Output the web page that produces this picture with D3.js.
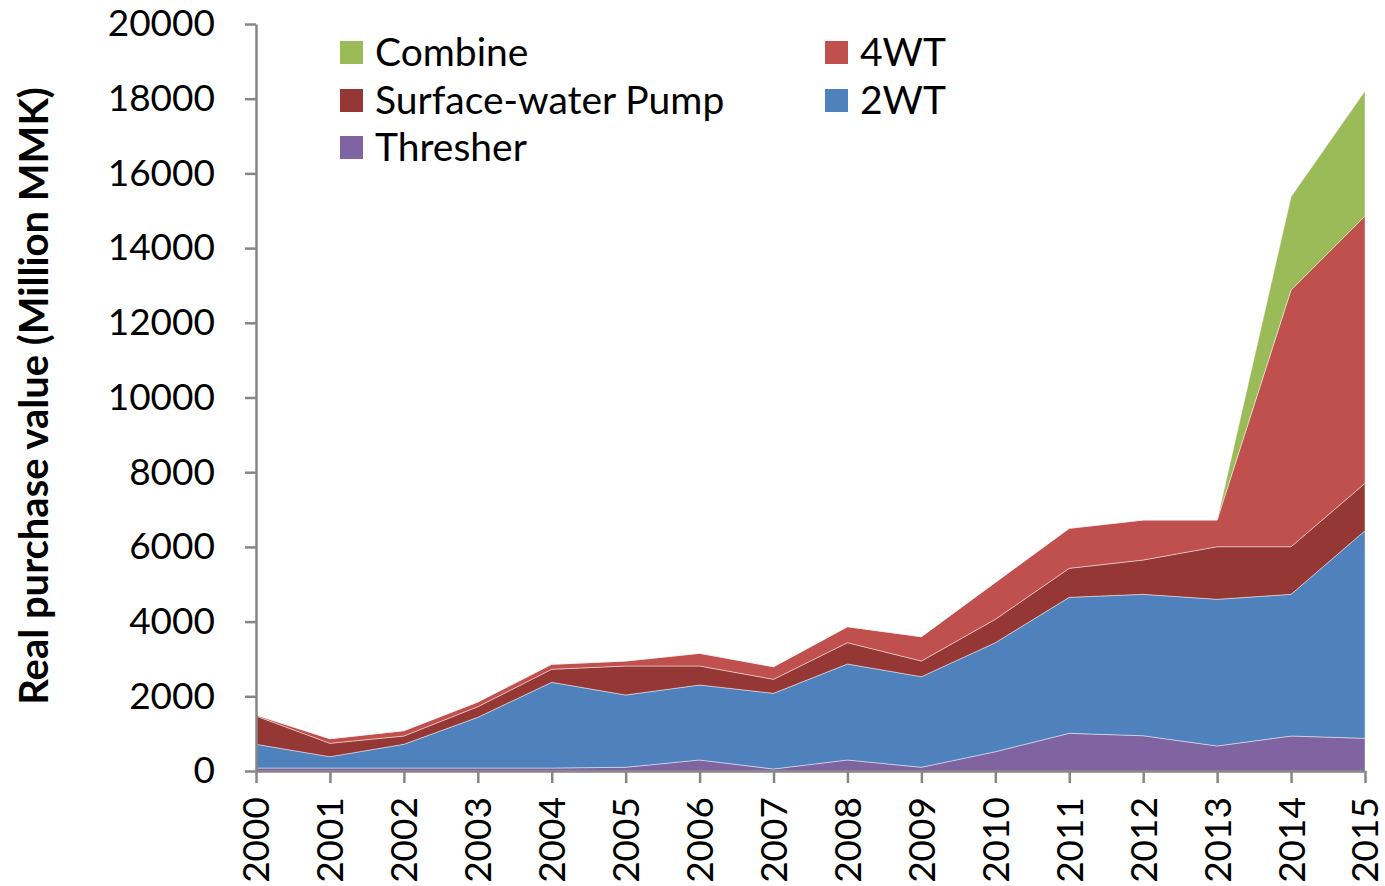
<!DOCTYPE html>
<html>
<head>
<meta charset="utf-8">
<script src="https://cdn.jsdelivr.net/npm/d3@7"></script>
<style>
  html, body { margin: 0; padding: 0; background: #fff; }
  svg { display: block; }
  text { font-family: "Lato", "Open Sans", sans-serif; fill: #000; }
</style>
</head>
<body>
<svg id="chart" width="1385" height="886"></svg>
<script>
// ---- data ----
const years = [2000,2001,2002,2003,2004,2005,2006,2007,2008,2009,2010,2011,2012,2013,2014,2015];
const thresher = [80,80,80,80,80,100,295,54,295,100,517,1009,945,669,937,875];
const twoWT    = [635,303,635,1357,2295,1935,2007,2026,2570,2425,2918,3641,3785,3928,3793,5559];
const pump     = [757,358,222,285,348,776,509,375,570,420,626,777,919,1408,1275,1269];
const fourWT   = [28,124,143,125,134,134,340,337,428,651,989,1071,1071,715,6873,7156];
const combine  = [0,0,0,0,0,0,0,0,0,0,0,0,0,0,2498,3347];
const seriesNames = ["Thresher","2WT","Surface-water Pump","4WT","Combine"];
const seriesColors = ["#8064A2","#4F81BD","#953735","#C0504D","#9BBB59"];
const yTicks = [0,2000,4000,6000,8000,10000,12000,14000,16000,18000,20000];

const rows = years.map((y,i) => ({
  year: y,
  "Thresher": thresher[i],
  "2WT": twoWT[i],
  "Surface-water Pump": pump[i],
  "4WT": fourWT[i],
  "Combine": combine[i]
}));

const svg = d3.select("#chart");
const m = {left: 256, right: 1365, top: 24, bottom: 771};

const x = d3.scaleLinear().domain([2000, 2015]).range([m.left, m.right]);
const y = d3.scaleLinear().domain([0, 20000]).range([m.bottom, m.top]);

const stack = d3.stack().keys(seriesNames);
const layers = stack(rows);
const area = d3.area()
  .x(d => x(d.data.year))
  .y0(d => y(d[0]))
  .y1(d => y(d[1]));

svg.append("g").selectAll("path")
  .data(layers)
  .join("path")
  .attr("d", area)
  .attr("fill", (d,i) => seriesColors[i])
  .attr("stroke", "rgba(255,255,255,0.55)")
  .attr("stroke-width", 0.8);

// axes
const axisColor = "#868686";
const yAxis = svg.append("g")
  .attr("transform", `translate(${m.left},0)`)
  .call(d3.axisLeft(y).tickValues(yTicks).tickSize(11).tickSizeOuter(0).tickPadding(30).tickFormat(d3.format("d")));
yAxis.select(".domain").attr("stroke", axisColor).attr("stroke-width", 2.5);
yAxis.selectAll(".tick line").attr("stroke", axisColor).attr("stroke-width", 2.5);
yAxis.selectAll(".tick text").attr("font-size", 37).attr("font-family", "Lato, sans-serif").attr("fill", "#000");

const xAxis = svg.append("g")
  .attr("transform", `translate(0,${m.bottom})`)
  .call(d3.axisBottom(x).tickValues(years).tickSize(12).tickSizeOuter(0).tickFormat(d3.format("d")));
xAxis.select(".domain").attr("stroke", axisColor).attr("stroke-width", 2.5);
xAxis.selectAll(".tick line").attr("stroke", axisColor).attr("stroke-width", 2.5);
xAxis.selectAll(".tick text")
  .attr("font-size", 37)
  .attr("font-family", "Lato, sans-serif")
  .attr("fill", "#000")
  .attr("transform", "rotate(-90)")
  .attr("text-anchor", "end")
  .attr("x", -26)
  .attr("y", 0)
  .attr("dy", "0.35em");

// y title
svg.append("text")
  .attr("transform", "translate(48,396) rotate(-90)")
  .attr("text-anchor", "middle")
  .attr("font-size", 40)
  .attr("font-weight", "bold")
  .text("Real purchase value (Million MMK)");

// legend
const legendItems = [
  {name: "Combine", col: 0, row: 0},
  {name: "4WT", col: 1, row: 0},
  {name: "Surface-water Pump", col: 0, row: 1},
  {name: "2WT", col: 1, row: 1},
  {name: "Thresher", col: 0, row: 2}
];
const colX = [340, 825];
const rowY = [52, 100, 147];
const lg = svg.append("g");
legendItems.forEach(it => {
  const c = seriesColors[seriesNames.indexOf(it.name)];
  lg.append("rect")
    .attr("x", colX[it.col]).attr("y", rowY[it.row] - 11)
    .attr("width", 23).attr("height", 23)
    .attr("fill", c);
  lg.append("text")
    .attr("x", colX[it.col] + 35).attr("y", rowY[it.row])
    .attr("dy", "0.35em")
    .attr("font-size", 39)
    .text(it.name);
});
</script>
</body>
</html>
